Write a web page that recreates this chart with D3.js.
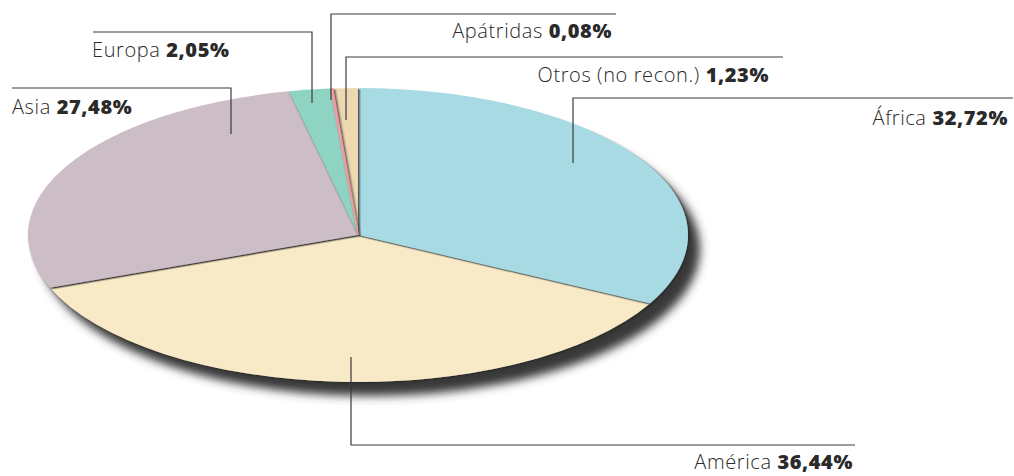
<!DOCTYPE html>
<html>
<head>
<meta charset="utf-8">
<script src="https://cdn.jsdelivr.net/npm/d3@7"></script>
<style>
  html, body { margin: 0; padding: 0; background: #fff; }
  svg { display: block; }
  .lbl { font-family: "Open Sans", Lato, sans-serif; font-size: 20px; letter-spacing: 0.6px; fill: #2a2a2a; }
  .lbl .name { font-weight: 300; }
  .lbl .pct { font-weight: 800; }
</style>
</head>
<body>
<svg id="chart" width="1014" height="476"></svg>
<script>
// data
const regions = ["África", "América", "Asia", "Europa", "Apátridas", "Otros (no recon.)"];
const shares = [32.72, 36.44, 27.48, 2.05, 0.08, 1.23];
const pctLabels = ["32,72%", "36,44%", "27,48%", "2,05%", "0,08%", "1,23%"];
const colors = ["#a8dae4", "#f9eac7", "#cdbdc6", "#8fd3c2", "#ee9ba5", "#edd8b2"];

const width = 1014, height = 476;
const cx = 358, cy = 235, rx = 330, ry = 147;

// label layout: leader x, elbow y, end y of leader, line end x, text pos
const layout = [
  { lx: 573, ey: 98,  ty: 163, hx: 1013, tx: 1008, tyText: 125, anchor: "end" },
  { lx: 351, ey: 445, ty: 357, hx: 855,  tx: 853,  tyText: 469, anchor: "end" },
  { lx: 231, ey: 88,  ty: 134, hx: 12,   tx: 12,   tyText: 114, anchor: "start" },
  { lx: 312, ey: 32,  ty: 103, hx: 93,   tx: 92,   tyText: 57,  anchor: "start" },
  { lx: 331, ey: 14,  ty: 100, hx: 616,  tx: 612,  tyText: 38,  anchor: "end" },
  { lx: 346, ey: 57,  ty: 120, hx: 783,  tx: 769,  tyText: 82,  anchor: "end" }
];

const svg = d3.select("#chart");
const defs = svg.append("defs");

const big = defs.append("filter").attr("id", "bigShadow")
  .attr("x", "-20%").attr("y", "-20%").attr("width", "140%").attr("height", "150%");
big.append("feGaussianBlur").attr("stdDeviation", 5);

const small = defs.append("filter").attr("id", "sliceShadow")
  .attr("x", "-10%").attr("y", "-10%").attr("width", "120%").attr("height", "130%");
small.append("feDropShadow").attr("dx", 1.5).attr("dy", 3).attr("stdDeviation", 1)
  .attr("flood-color", "#262626").attr("flood-opacity", 0.9);

const pie = d3.pie().sort(null).value(d => d);
const arcs = pie(shares);
const arc = d3.arc().innerRadius(0).outerRadius(rx);

// whole-pie shadow
svg.append("ellipse")
  .attr("cx", cx + 12).attr("cy", cy + 14)
  .attr("rx", rx).attr("ry", ry)
  .attr("fill", "#383838")
  .attr("filter", "url(#bigShadow)");

const g = svg.append("g")
  .attr("transform", `translate(${cx},${cy}) scale(1,${ry / rx})`);

// America first so the upper slices cast onto it
const order = [1, 0, 2, 3, 5, 4];
g.selectAll("path")
  .data(order.map(i => ({ a: arcs[i], i: i })))
  .enter()
  .append("path")
  .attr("d", d => arc(d.a))
  .attr("fill", d => colors[d.i])
  .attr("stroke", d => shares[d.i] < 0.5 ? colors[d.i] : "none")
  .attr("stroke-width", 1.6)
  .attr("filter", "url(#sliceShadow)");

// leader lines
const lines = svg.append("g");
layout.forEach(l => {
  lines.append("path")
    .attr("d", `M${l.hx},${l.ey}H${l.lx}V${l.ty}`)
    .attr("fill", "none")
    .attr("stroke", "#3a3a3a")
    .attr("stroke-width", 1.2);
});

// labels
const labels = svg.append("g");
regions.forEach((r, i) => {
  const l = layout[i];
  const t = labels.append("text")
    .attr("class", "lbl")
    .attr("x", l.tx).attr("y", l.tyText)
    .attr("text-anchor", l.anchor);
  t.append("tspan").attr("class", "name").text(r + " ");
  t.append("tspan").attr("class", "pct").text(pctLabels[i]);
});
</script>
</body>
</html>
